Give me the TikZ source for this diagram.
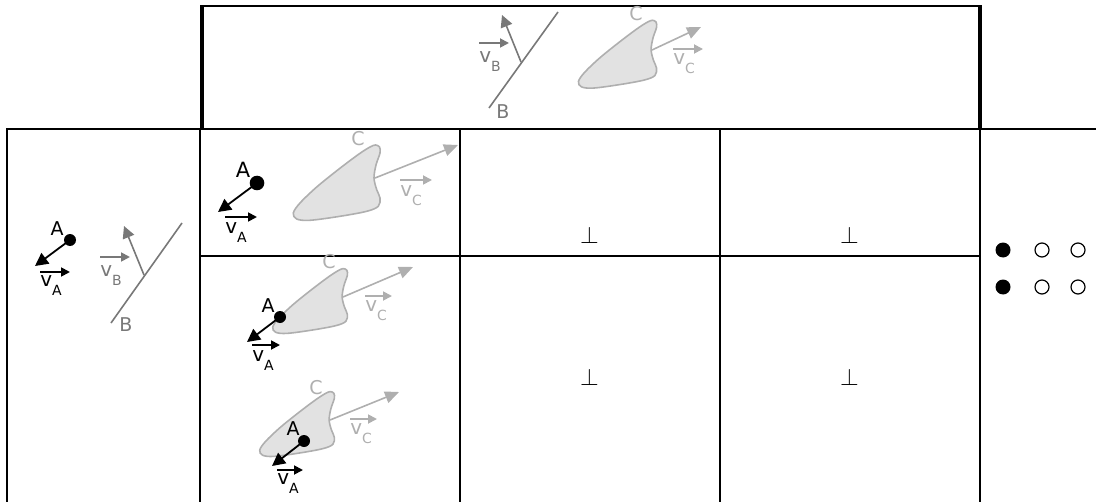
\documentclass[tikz,border=0pt]{standalone}
\usepackage{fontspec}
\setmainfont{DejaVu Sans}
\usepackage{tikz}
\usetikzlibrary{positioning,arrows.meta}
\definecolor{EdgeGray}{RGB}{120,120,120}
\definecolor{BodyGray}{RGB}{175,175,175}
\definecolor{BodyFill}{RGB}{226,226,226}
\newcommand{\vel}[1]{{\fontsize{10}{10}\selectfont v}\raisebox{-4.5pt}{\fontsize{7}{7}\selectfont #1}}

\begin{document}
\begin{tikzpicture}[
x=0.5pt, y=-0.5pt,
font=\fontsize{9.5}{11}\selectfont,
gridline/.style={line width=1pt},
heavyline/.style={line width=1.7pt},
lbl/.style={inner sep=0pt},
vlbl/.style={inner sep=0pt, anchor=north west},
pdot/.style={circle, fill, inner sep=0pt, minimum size=6pt},
aarr/.style={-{Triangle[length=6.5pt,width=6.5pt]}, line width=0.9pt},
varr/.style={-{Triangle[length=4.5pt,width=4.5pt]}, line width=0.9pt},
barr/.style={-{Triangle[length=6pt,width=6pt]}, line width=0.8pt, draw=EdgeGray},
carr/.style={-{Triangle[length=7pt,width=6pt]}, line width=0.8pt, draw=BodyGray},
wall/.style={line width=0.8pt, draw=EdgeGray},
perpmark/.style={inner sep=0pt, font=\fontsize{12.5}{12.5}\selectfont},
fulldot/.style={circle, fill, inner sep=0pt, minimum size=7.5pt},
hollowdot/.style={circle, draw, line width=0.6pt, inner sep=0pt, minimum size=7pt},
blob/.pic={\draw[line width=0.8pt, draw=BodyGray, fill=BodyFill] plot[smooth cycle, tension=0.55] coordinates {(0.5,-33) (4.5,-31) (5,-25) (1,-13) (-1,0) (1.7,11.7) (5,20) (3.3,28.3) (-8.3,33.3) (-35,38.3) (-65,42.3) (-78.3,41) (-81.7,35) (-75,25) (-58.3,9) (-36,-9) (-16,-24) (-5,-31)};}
]
\useasboundingbox (0,0) rectangle (1096,502);

\draw[gridline] (202,6) -- (980,6);
\draw[heavyline] (202,5.5) -- (202,129);
\draw[heavyline] (980,5.5) -- (980,129);
\draw[gridline] (7,129) -- (1096,129);
\draw[gridline] (7,128.5) -- (7,502);
\draw[gridline] (200,129) -- (200,502);
\draw[gridline] (460,129) -- (460,502);
\draw[gridline] (719.5,129) -- (719.5,502);
\draw[gridline] (979.5,129) -- (979.5,502);
\draw[gridline] (200,255.5) -- (979.5,255.5);

\node[pdot] (dA0) at (70,240) {};
\coordinate (tA0) at (35,266);
\draw[aarr] (dA0.center) -- (tA0);
\node[lbl] (lA0) at (57,229) {A};
\node[vlbl] (vA0) at (40,275) {\vel{A}};
\draw[varr] ([yshift=1.5pt]vA0.north west) -- ++(30,0);
\coordinate (wB0a) at (111,323);
\coordinate (wB0b) at (182,223);
\draw[wall] (wB0a) -- (wB0b);
\coordinate (nB0) at (144,275);
\coordinate (tB0) at (124,226);
\draw[barr] (nB0) -- (tB0);
\node[vlbl, text=EdgeGray] (vB0) at (100,265) {\vel{B}};
\draw[varr, draw=EdgeGray] ([yshift=4pt]vB0.north west) -- ++(30,0);
\node[lbl, text=EdgeGray] (lB0) at (126,325) {B};

\coordinate (wB1a) at (489,108);
\coordinate (wB1b) at (558,12);
\draw[wall] (wB1a) -- (wB1b);
\coordinate (nB1) at (521,62);
\coordinate (tB1) at (502,15);
\draw[barr] (nB1) -- (tB1);
\node[vlbl, text=EdgeGray] (vB1) at (479,51) {\vel{B}};
\draw[varr, draw=EdgeGray] ([yshift=4pt]vB1.north west) -- ++(30,0);
\node[lbl, text=EdgeGray] (lB1) at (503,112) {B};
\coordinate (nC1) at (652,50);
\pic[scale=0.9] at (nC1) {blob};
\coordinate (tC1) at (701,27);
\draw[carr] (nC1) -- (tC1);
\node[vlbl, text=BodyGray] (vC1) at (673,53) {\vel{C}};
\draw[varr, draw=BodyGray] ([yshift=2pt]vC1.north west) -- ++(30,0);
\node[lbl, text=BodyGray] (lC1) at (636,14) {C};

\coordinate (nC2) at (375,178);
\pic at (nC2) {blob};
\coordinate (tC2) at (458,145);
\draw[carr] (nC2) -- (tC2);
\node[vlbl, text=BodyGray] (vC2) at (400,185) {\vel{C}};
\draw[varr, draw=BodyGray] ([yshift=2.5pt]vC2.north west) -- ++(32,0);
\node[lbl, text=BodyGray] (lC2) at (358,139) {C};
\node[pdot, minimum size=7.3pt] (dA2) at (257,183) {};
\coordinate (tA2) at (218,212);
\draw[aarr] (dA2.center) -- (tA2);
\node[lbl, font=\fontsize{10.5}{12}\selectfont] (lA2) at (243,170) {A};
\node[vlbl] (vA2) at (225,222) {\vel{A}};
\draw[varr] ([yshift=2.5pt]vA2.north west) -- ++(32,0);

\coordinate (nC3) at (343,297);
\pic[scale=0.86] at (nC3) {blob};
\coordinate (tC3) at (413,267);
\draw[carr] (nC3) -- (tC3);
\node[vlbl, text=BodyGray] (vC3) at (365,300) {\vel{C}};
\draw[varr, draw=BodyGray] ([yshift=2pt]vC3.north west) -- ++(27,0);
\node[lbl, text=BodyGray] (lC3) at (329,262) {C};
\node[pdot] (dA3) at (280,317) {};
\coordinate (tA3) at (247,342);
\draw[aarr] (dA3.center) -- (tA3);
\node[lbl] (lA3) at (268,306) {A};
\node[vlbl] (vA3) at (252,350) {\vel{A}};
\draw[varr] ([yshift=2.5pt]vA3.north west) -- ++(28,0);

\coordinate (nC4) at (330,420);
\pic[scale=0.86] at (nC4) {blob};
\coordinate (tC4) at (399,392);
\draw[carr] (nC4) -- (tC4);
\node[vlbl, text=BodyGray] (vC4) at (350,423) {\vel{C}};
\draw[varr, draw=BodyGray] ([yshift=2pt]vC4.north west) -- ++(27,0);
\node[lbl, text=BodyGray] (lC4) at (316,388) {C};
\node[pdot] (dA4) at (304,441) {};
\coordinate (tA4) at (272,466);
\draw[aarr] (dA4.center) -- (tA4);
\node[lbl] (lA4) at (293,429) {A};
\node[vlbl] (vA4) at (277,473) {\vel{A}};
\draw[varr] ([yshift=1.5pt]vA4.north west) -- ++(26,0);

\node[perpmark] (p11) at (589.5,235) {$\perp$};
\node[perpmark] (p12) at (849.5,235) {$\perp$};
\node[perpmark] (p21) at (589.5,377) {$\perp$};
\node[perpmark] (p22) at (849.5,377) {$\perp$};

\node[fulldot] (s11) at (1003,250) {};
\node[hollowdot] (s12) at (1042,250) {};
\node[hollowdot] (s13) at (1078,250) {};
\node[fulldot] (s21) at (1003,287) {};
\node[hollowdot] (s22) at (1042,287) {};
\node[hollowdot] (s23) at (1078,287) {};
\end{tikzpicture}
\end{document}
